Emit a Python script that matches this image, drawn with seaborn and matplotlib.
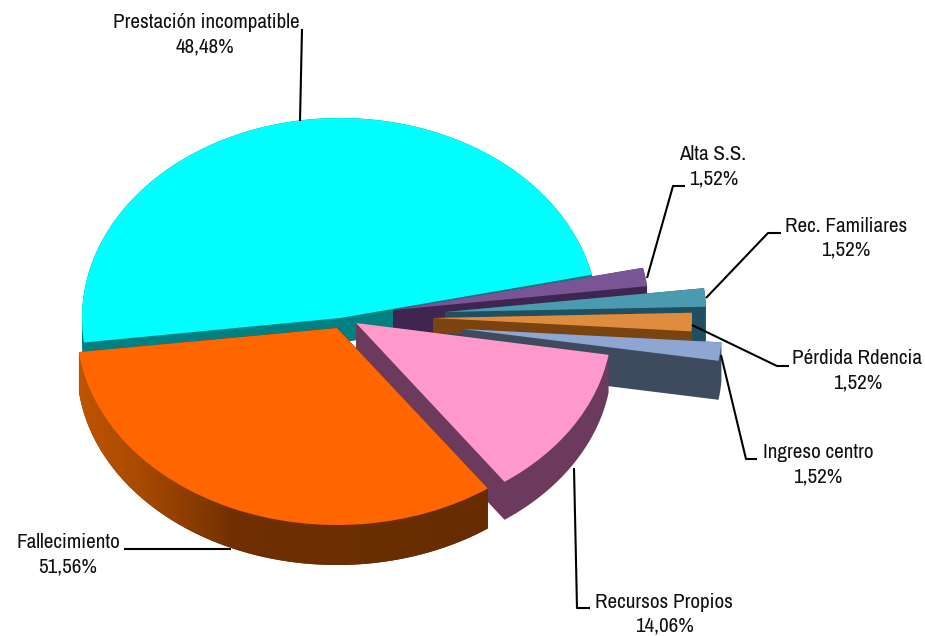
import matplotlib
matplotlib.use('Agg')
import matplotlib.pyplot as plt
import numpy as np
import seaborn as sns
from matplotlib.colors import LinearSegmentedColormap
from matplotlib.patches import PathPatch
from matplotlib.path import Path
from matplotlib.transforms import Affine2D

# slice sizes as drawn (the printed labels do not add up with them)
categories = ['Prestación incompatible', 'Fallecimiento', 'Recursos Propios',
              'Ingreso centro', 'Pérdida Rdencia', 'Rec. Familiares', 'Alta S.S.']
slice_sizes = [48.48, 32.9, 12.54, 1.52, 1.52, 1.52, 1.52]
printed_pct = ['48,48%', '51,56%', '14,06%', '1,52%', '1,52%', '1,52%', '1,52%']

top_colors = ['#00FFFF', '#FF6600', '#FF99CC', '#8FA6D3', '#E08C3F', '#4A9BB0', '#7A5595']
side_colors = ['#008080', '#6A2E00', '#6B3A5C', '#3E4A5E', '#7A4310', '#1F4F60', '#3E2650']

# cx, cy, rx, ry, depth in pixels for each slice
placement = [(340, 318, 258, 200, 25),
             (337, 328, 260, 197, 40),
             (356, 323, 256, 195, 38),
             (462, 329, 260, 195, 39),
             (433, 318, 259, 195, 15),
             (445, 312, 261, 195, 35),
             (393, 310, 256, 195, 30)]
draw_order = [0, 6, 5, 4, 3, 2, 1]

# text x, y of name, x, y of percent
label_pos = [(206, 22, 205, 47), (68, 542, 68, 567), (664, 602, 664, 626),
             (818, 453, 818, 477), (857, 359, 858, 383), (846, 226, 846, 250),
             (713, 154, 714, 179)]
leaders = [[(302, 29), (300, 121)],
           [(124, 549), (231, 549)],
           [(574, 468), (577, 608), (590, 608)],
           [(721, 355), (746, 459), (757, 459)],
           [(692, 325), (777, 366), (789, 366)],
           [(706, 298), (768, 233), (781, 233)],
           [(685, 186), (673, 186), (647, 278)]]

sns.set_theme(style='white')
plt.rcParams['font.family'] = ['Archivo Narrow', 'Roboto Condensed', 'Liberation Sans']

fig = plt.figure(figsize=(9.25, 6.36), dpi=100)
ax = fig.add_axes([0, 0, 1, 1])

wedges, _ = ax.pie(slice_sizes, colors=sns.color_palette(top_colors), startangle=12.5,
                   wedgeprops={'linewidth': 0})


def convex_hull(points):
    pts = sorted(set(points))
    def half(seq):
        out = []
        for p in seq:
            while len(out) > 1 and ((out[-1][0] - out[-2][0]) * (p[1] - out[-2][1])
                                    - (out[-1][1] - out[-2][1]) * (p[0] - out[-2][0])) <= 0:
                out.pop()
            out.append(p)
        return out[:-1]
    return half(pts) + half(pts[::-1])


def wall_patch(wedge, cx, cy, rx, ry, depth, **kw):
    # wedge pushed straight down, every slice here is convex
    t = np.radians(np.linspace(wedge.theta1, wedge.theta2, 200))
    top = [(cx, cy)] + [(cx + rx * np.cos(a), cy - ry * np.sin(a)) for a in t]
    hull = convex_hull(top + [(x, y + depth) for x, y in top])
    patch = PathPatch(Path(hull + hull[:1]), lw=0, **kw)
    ax.add_patch(patch)
    return patch


for rank, i in enumerate(draw_order):
    cx, cy, rx, ry, depth = placement[i]
    w = wedges[i]
    w.set_transform(Affine2D().scale(rx, -ry).translate(cx, cy) + ax.transData)
    w.set_zorder(rank * 10 + 2)
    wall = wall_patch(w, cx, cy, rx, ry, depth, fc=side_colors[i], zorder=rank * 10 + 1)
    if categories[i] == 'Fallecimiento':
        # this wall has a gradient running left to right
        cmap = LinearSegmentedColormap.from_list('wall', [(0, '#C05400'), (0.15, '#A84A00'),
                                                          (0.38, '#703000'), (1, '#662C00')])
        img = ax.imshow(np.linspace(0, 1, 256)[None, :], cmap=cmap, aspect='auto',
                        extent=[cx - rx, cx + rx * 0.6, cy + ry + depth, cy],
                        zorder=rank * 10 + 1.5)
        img.set_clip_path(wall)

for pts in leaders:
    xs, ys = zip(*pts)
    ax.plot(xs, ys, color='black', lw=1.5, solid_capstyle='butt', zorder=90)

for name, pct, (x1, y1, x2, y2) in zip(categories, printed_pct, label_pos):
    ax.text(x1, y1, name, ha='center', va='center', fontsize=15.2, color='#111111', zorder=95)
    ax.text(x2, y2, pct, ha='center', va='center', fontsize=15.2, color='#111111', zorder=95)

ax.set_aspect('auto')
ax.set_xlim(0, 925)
ax.set_ylim(636, 0)
ax.axis('off')

fig.savefig('out.png', dpi=100, facecolor='white')
